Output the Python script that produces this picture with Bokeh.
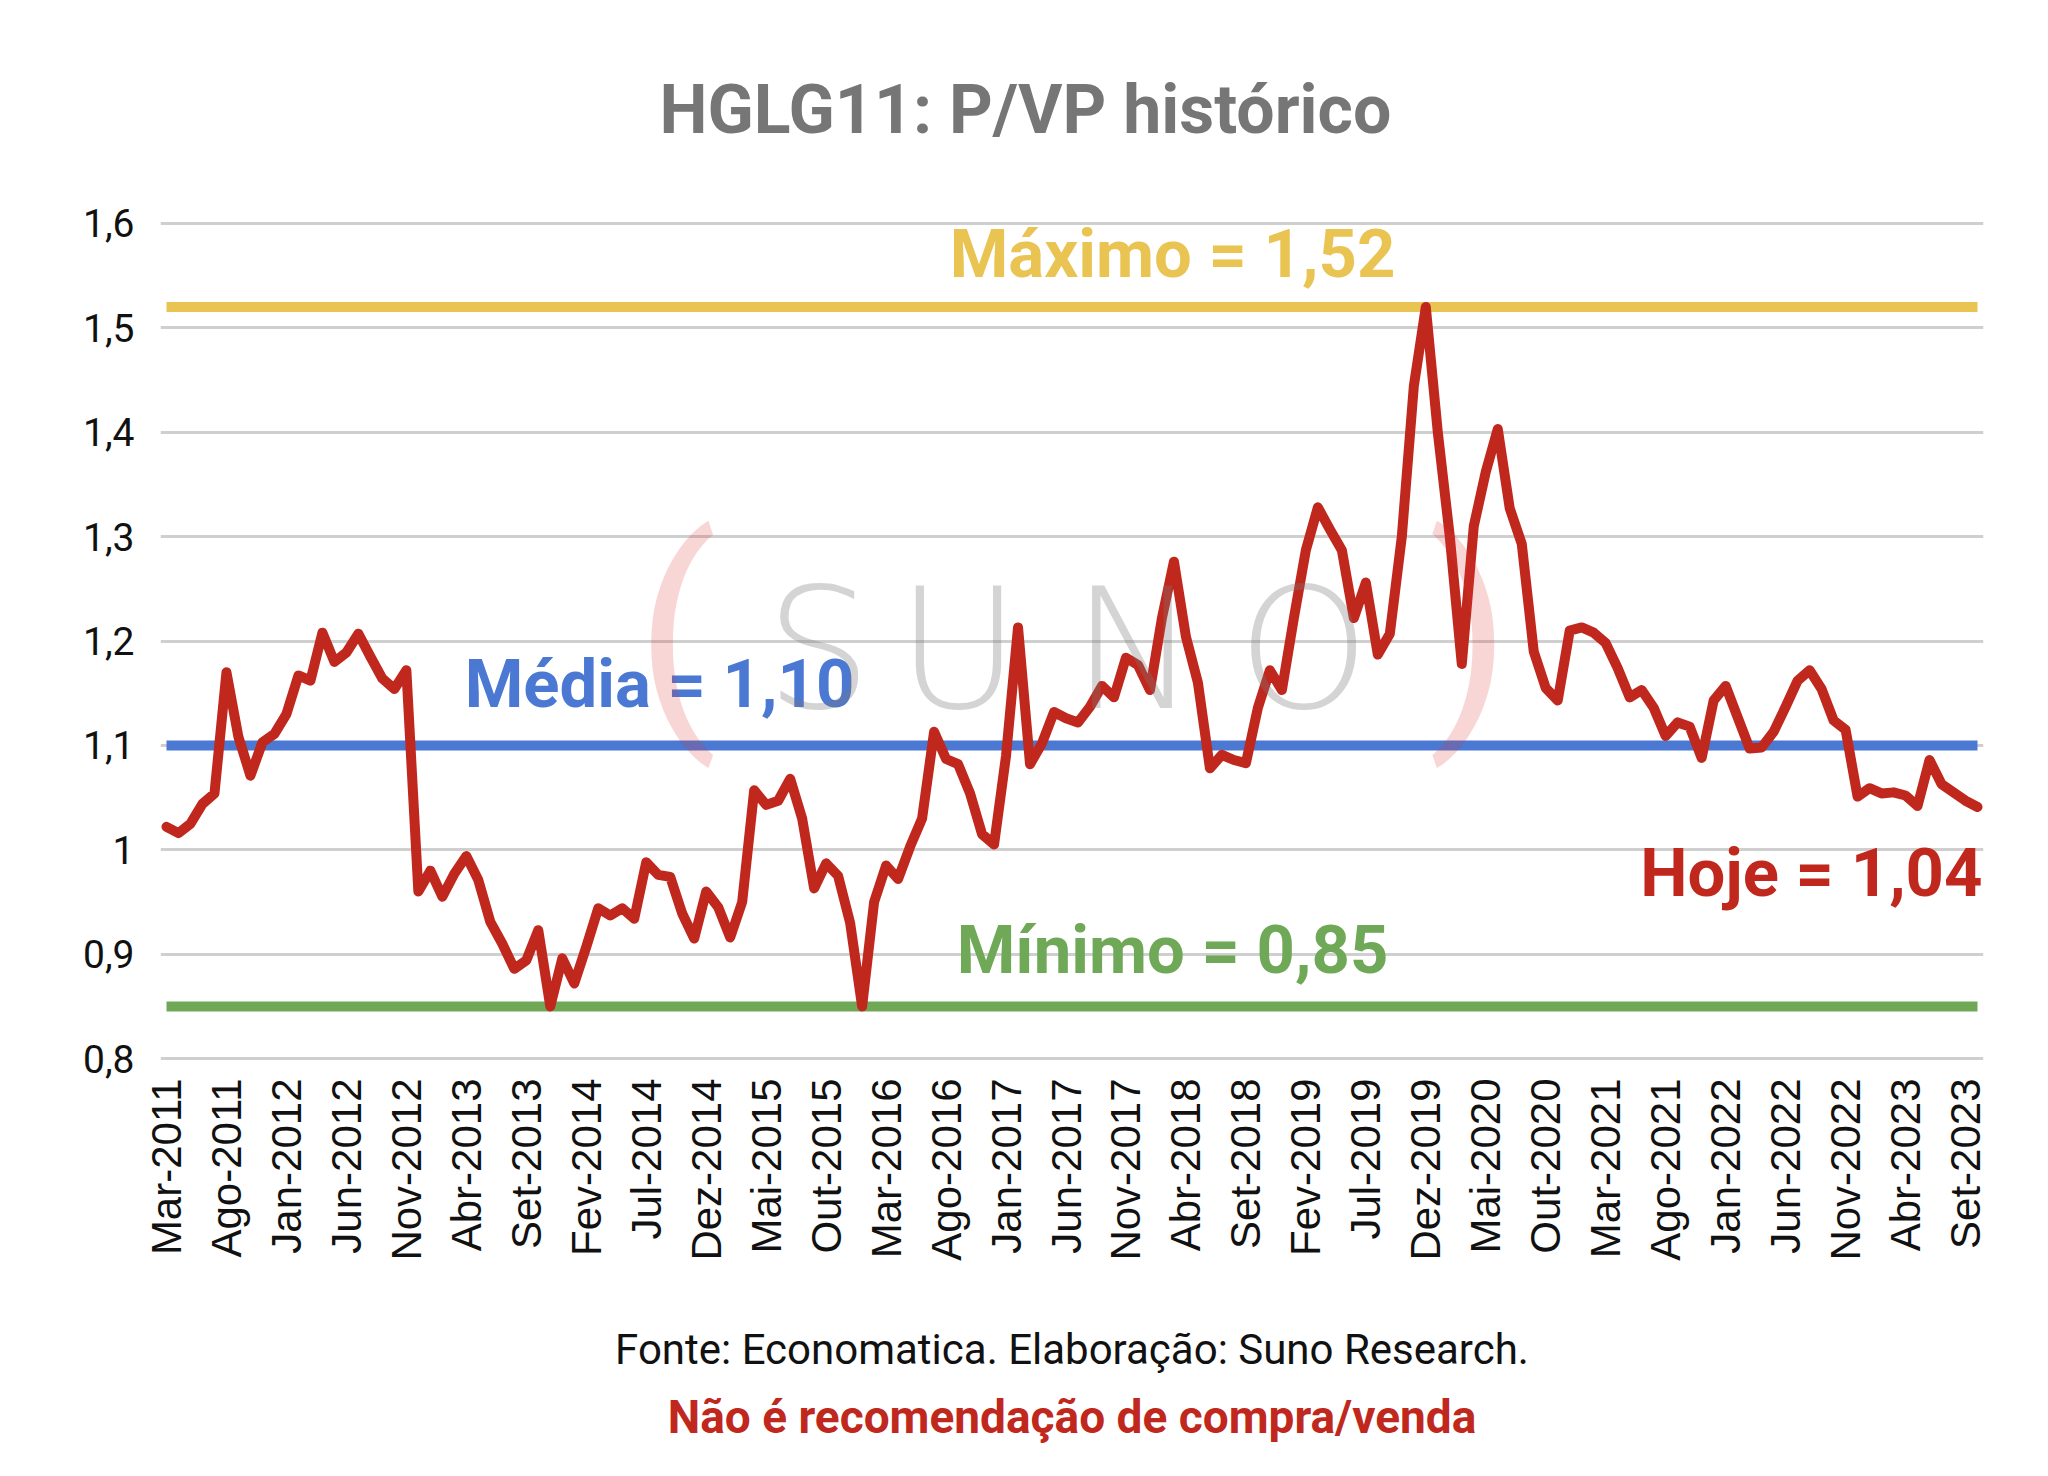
import math
from bokeh.plotting import figure
from bokeh.models import Range1d, FixedTicker, Label, Title
from bokeh.embed import file_html
from bokeh.resources import INLINE

# ---------------- data ----------------
TITLE = "HGLG11: P/VP histórico"
MONTHS_PT = ["Jan", "Fev", "Mar", "Abr", "Mai", "Jun", "Jul", "Ago", "Set", "Out", "Nov", "Dez"]
START_YEAR = 2011
START_MONTH = 3  # Mar-2011

PVP = [
    1.022, 1.016, 1.025, 1.044, 1.054, 1.170, 1.108, 1.071, 1.103, 1.111,
    1.130, 1.167, 1.162, 1.208, 1.180, 1.189, 1.207, 1.185, 1.164, 1.154,
    1.172, 0.960, 0.980, 0.955, 0.977, 0.994, 0.971, 0.931, 0.910, 0.886,
    0.894, 0.923, 0.850, 0.896, 0.872, 0.907, 0.944, 0.937, 0.944, 0.934,
    0.988, 0.976, 0.974, 0.939, 0.915, 0.960, 0.945, 0.916, 0.950, 1.057,
    1.043, 1.047, 1.068, 1.030, 0.963, 0.987, 0.975, 0.930, 0.850, 0.950,
    0.985, 0.972, 1.003, 1.030, 1.113, 1.087, 1.082, 1.054, 1.015, 1.005,
    1.090, 1.213, 1.082, 1.102, 1.132, 1.126, 1.122, 1.137, 1.157, 1.146,
    1.184, 1.177, 1.153, 1.222, 1.276, 1.204, 1.160, 1.078, 1.091, 1.086,
    1.083, 1.136, 1.172, 1.153, 1.222, 1.287, 1.328, 1.307, 1.287, 1.222,
    1.256, 1.187, 1.207, 1.300, 1.444, 1.520, 1.400, 1.300, 1.178, 1.310,
    1.362, 1.403, 1.327, 1.293, 1.190, 1.155, 1.143, 1.210, 1.213, 1.208,
    1.198, 1.174, 1.146, 1.153, 1.136, 1.109, 1.122, 1.118, 1.088, 1.143,
    1.157, 1.127, 1.097, 1.098, 1.113, 1.137, 1.162, 1.172, 1.154, 1.124,
    1.115, 1.051, 1.059, 1.054, 1.055, 1.052, 1.042, 1.086, 1.063, 1.055,
    1.047, 1.041,
]

CATEGORIES = [
    f"{MONTHS_PT[(START_MONTH - 1 + k) % 12]}-{START_YEAR + (START_MONTH - 1 + k) // 12}"
    for k in range(len(PVP))
]
TICK_STEP = 5

MAXIMO = 1.52
MEDIA = 1.10
MINIMO = 0.85
HOJE = 1.04

Y_TICKS = [0.8, 0.9, 1.0, 1.1, 1.2, 1.3, 1.4, 1.5, 1.6]
Y_TICK_LABELS = ["0,8", "0,9", "1", "1,1", "1,2", "1,3", "1,4", "1,5", "1,6"]

LBL_MAX = "Máximo = 1,52"
LBL_MED = "Média = 1,10"
LBL_MIN = "Mínimo = 0,85"
LBL_HOJE = "Hoje = 1,04"
FOOT1 = "Fonte: Economatica. Elaboração: Suno Research."
FOOT2 = "Não é recomendação de compra/venda"
WATERMARK = ["S", "U", "N", "O"]

# ---------------- styling / layout ----------------
RED = "#C0281E"
YELLOW = "#EAC452"
BLUE = "#4A78D2"
GREEN = "#6FA857"
GRID = "#CFCFCF"

N = len(PVP)
X0, X1 = -0.5, N - 0.5
Y0, Y1 = 0.7905, 1.6095
FRAME_L, FRAME_T = 160, 213          # page px
FRAME_W, FRAME_H = 1823, 855
PX_X = FRAME_W / (X1 - X0)
PX_Y = FRAME_H / (Y1 - Y0)


def dx(px):   # page x -> data x
    return X0 + (px - FRAME_L) / PX_X


def dy(py):   # page y -> data y
    return Y1 - (py - FRAME_T) / PX_Y


p = figure(
    frame_width=FRAME_W, frame_height=FRAME_H,
    min_border_left=FRAME_L, min_border_right=57,
    min_border_top=FRAME_T, min_border_bottom=400,
    x_range=Range1d(X0, X1), y_range=Range1d(Y0, Y1),
    output_backend="svg", toolbar_location=None,
    background_fill_color="white", border_fill_color="white",
)
p.outline_line_color = None

# title
p.title.text = TITLE
p.title.align = "left"
p.title.offset = 499
p.title.standoff = 128
p.title.text_font = "Roboto"
p.title.text_font_size = "68px"
p.title.text_font_style = "bold"
p.title.text_color = "#767676"

# axes
ticks = list(range(0, N, TICK_STEP))
p.xaxis.ticker = FixedTicker(ticks=ticks)
p.xaxis.major_label_overrides = {t: CATEGORIES[t] for t in ticks}
p.xaxis.major_label_orientation = math.pi / 2
p.xaxis.major_label_text_font = "Liberation Sans"
p.xaxis.major_label_text_font_size = "42px"
p.xaxis.major_label_text_color = "#111111"
p.xaxis.major_label_standoff = 4
p.xaxis.axis_line_color = None
p.xaxis.major_tick_line_color = None
p.xaxis.minor_tick_line_color = None
# source note as the x-axis label
p.xaxis.axis_label = FOOT1
p.xaxis.axis_label_text_font = "Roboto"
p.xaxis.axis_label_text_font_size = "42px"
p.xaxis.axis_label_text_font_style = "normal"
p.xaxis.axis_label_text_color = "#111111"
p.xaxis.axis_label_standoff = 61

p.yaxis.ticker = FixedTicker(ticks=Y_TICKS)
p.yaxis.major_label_overrides = dict(zip(Y_TICKS, Y_TICK_LABELS))
p.yaxis.major_label_text_font = "Roboto"
p.yaxis.major_label_text_font_size = "39px"
p.yaxis.major_label_text_color = "#111111"
p.yaxis.major_label_standoff = 20
p.yaxis.axis_line_color = None
p.yaxis.major_tick_line_color = None
p.yaxis.minor_tick_line_color = None

p.xgrid.visible = False
p.ygrid.grid_line_color = GRID
p.ygrid.grid_line_width = 3

# disclaimer (below the x axis)
p.add_layout(Title(text=FOOT2, align="center", standoff=22, text_font="Roboto",
                   text_font_size="46px", text_font_style="bold", text_color=RED), "below")

# reference lines
xs_ref = [0, N - 1]
p.line(xs_ref, [MAXIMO, MAXIMO], line_color=YELLOW, line_width=10, line_cap="butt")
p.line(xs_ref, [MEDIA, MEDIA], line_color=BLUE, line_width=10, line_cap="butt")
p.line(xs_ref, [MINIMO, MINIMO], line_color=GREEN, line_width=10, line_cap="butt")

# main series
p.line(list(range(N)), PVP, line_color=RED, line_width=10, line_join="round", line_cap="round")


def add_label(text, px, py, color, size_px, bold=False, align="center", font="Roboto",
              alpha=1.0, baseline="alphabetic", shift=0.36):
    # shift compensates the renderer's baseline placement (fraction of font size)
    p.add_layout(Label(
        x=dx(px), y=dy(py - shift * size_px), text=text, text_color=color, text_alpha=alpha,
        text_font=font, text_font_size=f"{size_px}px",
        text_font_style="bold" if bold else "normal",
        text_align=align, text_baseline=baseline,
    ))


# value labels
add_label(LBL_MAX, 1172, 278, YELLOW, 67, bold=True)
add_label(LBL_MED, 659, 708, BLUE, 67, bold=True)
add_label(LBL_MIN, 1172, 974, GREEN, 67, bold=True)
add_label(LBL_HOJE, 1982, 897, RED, 67, bold=True, align="right")

# watermark
for letter, cx in zip(WATERMARK, [818, 958, 1134, 1303]):
    add_label(letter, cx, 707, "#7A7A7A", 168, font="DejaVu Sans Light", alpha=0.32, shift=0.34)
add_label("(", 676, 630, "#E03030", 240, font="Roboto", alpha=0.2, baseline="middle", shift=0.0)
add_label(")", 1469, 630, "#E03030", 240, font="Roboto", alpha=0.2, baseline="middle", shift=0.0)

open("out.html", "w").write(file_html(p, INLINE))
